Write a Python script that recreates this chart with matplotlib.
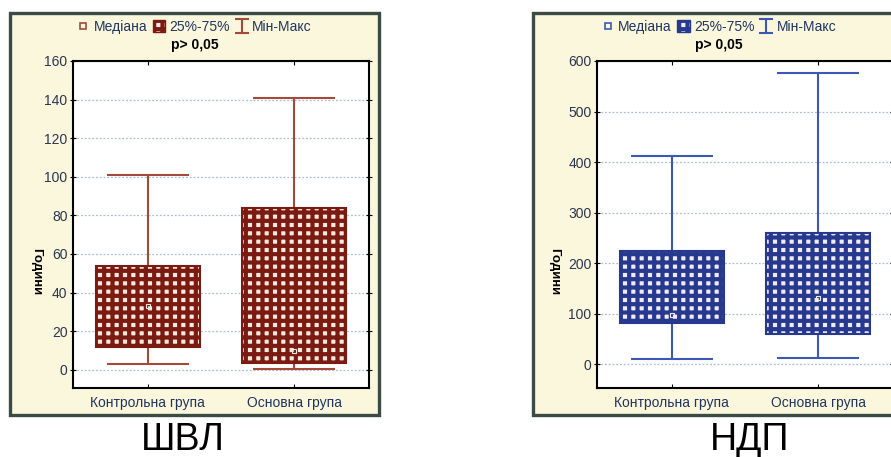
import numpy as np
import matplotlib
matplotlib.use("Agg")
import matplotlib.pyplot as plt
from matplotlib.patches import Rectangle, Patch
from matplotlib.lines import Line2D
from matplotlib.path import Path

plt.rcParams['font.family'] = ['Liberation Sans', 'DejaVu Sans']
plt.rcParams['hatch.linewidth'] = 3.0

# data (hours)
groups = ['Контрольна група', 'Основна група']
panel_titles = ['ШВЛ', 'НДП']
shvl_min = [3, 0.5]
shvl_q1 = [12, 3.5]
shvl_med = [33, 9.5]
shvl_q3 = [53.5, 84]
shvl_max = [101, 141]
ndp_min = [10, 13]
ndp_q1 = [82, 59]
ndp_med = [97, 132]
ndp_q3 = [224, 260]
ndp_max = [413, 577]
shvl_ticks = [0, 20, 40, 60, 80, 100, 120, 140, 160]
ndp_ticks = [0, 100, 200, 300, 400, 500, 600]

W, H = 891, 457
fig = plt.figure(figsize=(W / 100, H / 100), dpi=100)

def fx(px):
    return px / W

def fy(py):
    return 1 - py / H

# name, stats, ticks, ylim, colours, frame x px, axes x px, title x px, ylabel x px
panels = [
    (panel_titles[0], (shvl_min, shvl_q1, shvl_med, shvl_q3, shvl_max), shvl_ticks, (-9.5, 160),
     '#7a1a10', '#a5493a', '#f8e8de', (10, 379), 73, 183, 36),
    (panel_titles[1], (ndp_min, ndp_q1, ndp_med, ndp_q3, ndp_max), ndp_ticks, (-47, 600),
     '#27398f', '#3a58b4', '#f0eaf4', (533, 905), 597, 750, 554),
]

for title, stats, ticks, ylim, dark, wcol, light, (fl, fr), axl, tx, ylx in panels:
    mn, q1, med, q3, mx = stats
    # cream frame round each panel
    frame = Rectangle((fx(fl), fy(415)), fx(fr - fl), fy(13) - fy(415), transform=fig.transFigure,
                      facecolor='#fbf7dc', edgecolor='#3b4a45', linewidth=2.4, zorder=-1)
    fig.add_artist(frame)

    ax = fig.add_axes([fx(axl), fy(388), fx(296), fy(61) - fy(388)])
    ax.set_facecolor('white')
    x = np.arange(len(groups))
    ax.vlines(x, mn, mx, color=wcol, linewidth=1.5, zorder=2)
    ax.hlines(mn, x - 0.28, x + 0.28, color=wcol, linewidth=1.5, zorder=2)
    ax.hlines(mx, x - 0.28, x + 0.28, color=wcol, linewidth=1.5, zorder=2)
    ax.bar(x, np.array(q3) - np.array(q1), bottom=q1, width=0.71, facecolor=light,
           edgecolor=dark, hatch='++', linewidth=1.5, zorder=3)
    ax.plot(x, med, 's', ms=3.5, mfc='none', mec=light, mew=0.8, zorder=4)

    ax.set_xlim(-0.51, 1.51)
    ax.set_ylim(*ylim)
    ax.set_yticks(ticks)
    ax.set_xticks(x)
    ax.set_xticklabels(groups, fontsize=10, color='#1f3560')
    ax.tick_params(axis='y', direction='inout', length=4, right=True, labelsize=10,
                   labelcolor='#2a3550', pad=2)
    ax.tick_params(axis='x', direction='in', length=3, top=True, pad=6)
    ax.grid(axis='y', linestyle=(0, (1.5, 1.5)), color='#a9bfd0', linewidth=0.9, zorder=1)
    for s in ax.spines.values():
        s.set_linewidth(1.5)
        s.set_color('black')

    fig.text(fx(ylx), fy(272), 'Години', rotation=270, ha='center', va='center',
             fontsize=9.5, fontweight='bold')

    cx = fx((fl + fr) / 2)
    handles = [
        Line2D([], [], linestyle='none', marker='s', ms=4, mfc='none', mec=wcol, mew=1.2),
        Patch(facecolor=light, edgecolor=dark, hatch='++', linewidth=1),
        Line2D([], [], linestyle='none', marker=Path([(-1, 1), (1, 1), (0, 1), (0, -1), (-1, -1), (1, -1)],
                                                     [1, 2, 1, 2, 1, 2]),
               ms=10, mec=wcol, mew=1.5),
    ]
    fig.legend(handles, ['Медіана', '25%-75%', 'Мін-Макс'], loc='center', ncol=3,
               bbox_to_anchor=(cx, fy(27)), frameon=False, fontsize=10, handlelength=0.9,
               handleheight=0.9, handletextpad=0.3, columnspacing=0.4, borderpad=0,
               labelcolor='#1f3560')
    fig.text(cx, fy(45), 'p> 0,05', ha='center', va='center', fontsize=10, fontweight='bold')

    fig.text(fx(tx), fy(440), title, ha='center', va='center', fontsize=27)

fig.savefig('out.png', dpi=100)
